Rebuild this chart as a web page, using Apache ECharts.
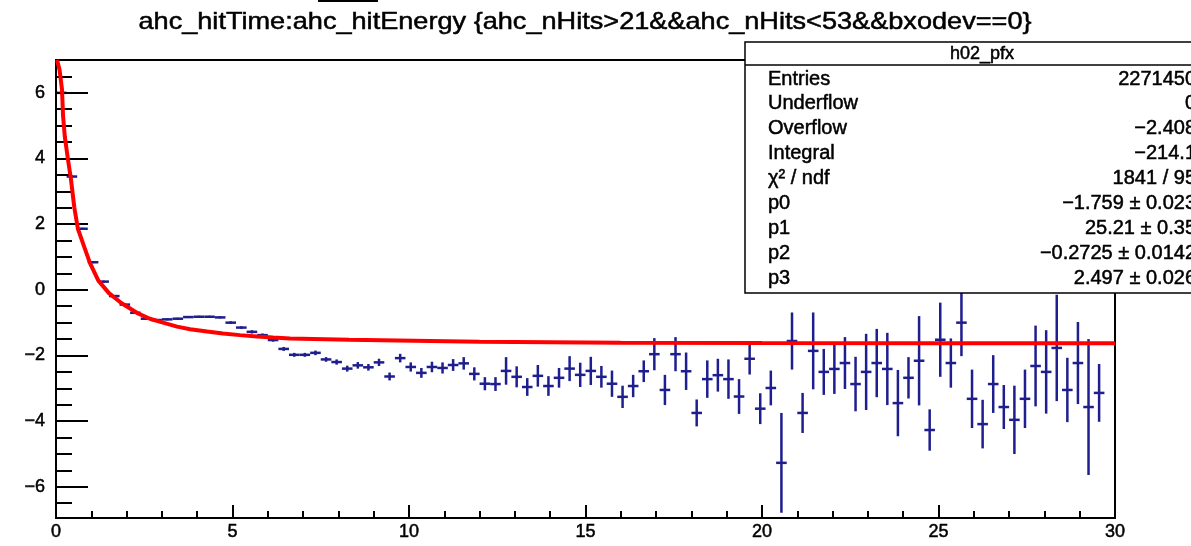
<!DOCTYPE html>
<html>
<head>
<meta charset="utf-8">
<title>h02_pfx</title>
<script src="https://cdn.jsdelivr.net/npm/echarts@6/dist/echarts.min.js"></script>
<style>
html, body { margin: 0; padding: 0; background: #fff; }
#main { width: 1191px; height: 546px; }
</style>
</head>
<body>
<div id="main"></div>
<script>
// profile h02_pfx : 100 bins from 0 to 30
var nBins = 100;
var xLow = 0;
var binWidth = 0.3;

// mean hitTime per bin, null = empty bin
var binMean = [
  6.0, 3.45, 1.86, 0.84, 0.25, -0.19, -0.45, -0.70, -0.88, -0.92,
  -0.90, -0.88, -0.83, -0.82, -0.82, -0.84, -1.00, -1.15, -1.28, -1.38,
  -1.53, -1.80, -1.98, -1.98, -1.92, -2.12, -2.20, -2.40, -2.30, -2.36,
  -2.21, -2.64, -2.08, -2.35, -2.53, -2.35, -2.38, -2.29, -2.24, -2.56,
  -2.86, -2.87, -2.47, -2.65, -2.96, -2.62, -2.93, -2.68, -2.40, -2.59,
  -2.47, -2.65, -2.86, -3.26, -2.93, -2.48, -1.96, -3.05, -1.96, -2.48,
  -3.75, -2.72, -2.60, -2.72, -3.25, -2.10, -3.62, -2.99, -5.27, -1.56,
  -3.75, -1.86, -2.50, -2.41, -2.23, -2.87, -2.50, -2.23, -2.41, -3.45,
  -2.68, -2.16, -4.27, -1.52, -2.23, -1.00, -3.32, -4.09, -2.87, -3.57,
  -3.96, -3.32, -2.32, -2.50, -1.77, -3.05, -2.23, -3.57, -3.14, null
];
// error on the mean
var binErr = [
  0.05, 0.03, 0.03, 0.03, 0.03, 0.03, 0.03, 0.03, 0.03, 0.03,
  0.03, 0.03, 0.03, 0.03, 0.03, 0.03, 0.04, 0.04, 0.05, 0.05,
  0.05, 0.06, 0.06, 0.06, 0.07, 0.07, 0.08, 0.09, 0.10, 0.10,
  0.11, 0.12, 0.13, 0.14, 0.15, 0.16, 0.17, 0.18, 0.19, 0.20,
  0.20, 0.21, 0.42, 0.32, 0.27, 0.33, 0.30, 0.30, 0.38, 0.37,
  0.43, 0.33, 0.40, 0.34, 0.34, 0.33, 0.49, 0.46, 0.52, 0.57,
  0.41, 0.57, 0.50, 0.60, 0.53, 0.48, 0.47, 0.53, 1.52, 0.87,
  0.61, 1.17, 0.70, 0.76, 0.79, 0.83, 1.16, 1.04, 1.10, 1.01,
  0.63, 1.36, 0.63, 1.13, 0.75, 1.02, 0.89, 0.74, 0.88, 0.67,
  1.04, 0.89, 1.23, 1.27, 1.62, 0.98, 1.25, 2.07, 0.88, 0
];

// fitted function, sampled off the red curve
var fitX = [0.03, 0.10, 0.17, 0.20, 0.25, 0.34, 0.42, 0.52, 0.62, 0.80,
  0.96, 1.20, 1.50, 1.85, 2.29, 2.66, 3.03, 3.43, 3.80, 4.28,
  4.73, 5.21, 5.69, 6.15, 6.63, 8.30, 12.0, 16.0, 20.0, 25.0, 30.0];
var fitY = [7.00, 6.70, 6.10, 5.30, 4.66, 3.96, 3.40, 2.50, 1.86, 1.31,
  0.82, 0.28, -0.10, -0.40, -0.70, -0.88, -1.00, -1.12, -1.20, -1.27,
  -1.33, -1.38, -1.42, -1.45, -1.48, -1.52, -1.58, -1.61, -1.62, -1.63, -1.63];

// y axis ticks
var yMajorTicks = [-6, -4, -2, 0, 2, 4, 6];
var yMinorTicks = [-6.5, -6, -5.5, -5, -4.5, -4, -3.5, -3, -2.5, -2, -1.5, -1, -0.5,
  0, 0.5, 1, 1.5, 2, 2.5, 3, 3.5, 4, 4.5, 5, 5.5, 6, 6.5];

// stats box
var statTitle = 'h02_pfx';
var statNames = ['Entries', 'Underflow', 'Overflow', 'Integral', 'χ² / ndf', 'p0', 'p1', 'p2', 'p3'];
var statValues = ['2271450', '0', '−2.408', '−214.1', '1841 / 95',
  '−1.759 ± 0.023', '25.21 ± 0.35', '−0.2725 ± 0.0142', '2.497 ± 0.026'];

var histTitle = 'ahc_hitTime:ahc_hitEnergy {ahc_nHits>21&&ahc_nHits<53&&bxodev==0}';

var FONT = '"Liberation Sans", Arial, Helvetica, sans-serif';
var BLUE = '#1e1e8e';

var chart = echarts.init(document.getElementById('main'));

var profData = [];
for (var i = 0; i < nBins; i++) {
  if (binMean[i] === null) continue;
  profData.push([xLow + (i + 0.5) * binWidth, binMean[i], binErr[i]]);
}

var fitData = fitX.map(function (x, i) { return [x, fitY[i]]; });

function minusFmt(v) {
  return v < 0 ? '\u2212' + Math.abs(v) : String(v);
}

function renderProfile(params, api) {
  var x = api.value(0), y = api.value(1), e = api.value(2);
  var l = api.coord([x - binWidth / 2, y]);
  var r = api.coord([x + binWidth / 2, y]);
  var t = api.coord([x, y + e]);
  var b = api.coord([x, y - e]);
  var st = { stroke: BLUE, lineWidth: 2.5 };
  return {
    type: 'group',
    children: [
      { type: 'line', shape: { x1: l[0], y1: l[1], x2: r[0], y2: r[1] }, style: st },
      { type: 'line', shape: { x1: t[0], y1: t[1], x2: b[0], y2: b[1] }, style: st }
    ]
  };
}

// text a bit heavier, like the ROOT canvas rendering
function txt(text, x, y, size, align, z) {
  return { type: 'text', x: x, y: y, z: z,
    style: { text: text, font: size + 'px ' + FONT, fill: '#000', stroke: '#000', lineWidth: 0.5,
      align: align, verticalAlign: 'middle' } };
}

// stats box graphics
var boxX = 745, boxY = 42, boxW = 480, boxH = 251;
var statGraphics = [
  { type: 'rect', shape: { x: boxX, y: boxY, width: boxW, height: boxH },
    style: { fill: '#fff', stroke: '#000', lineWidth: 1.5 }, z: 100 },
  { type: 'line', shape: { x1: boxX, y1: 65, x2: boxX + boxW, y2: 65 },
    style: { stroke: '#000', lineWidth: 1.5 }, z: 101 },
  txt(statTitle, 982, 54, 18, 'center', 101)
];
for (var k = 0; k < statNames.length; k++) {
  var ry = 79 + k * 24.9;
  statGraphics.push(txt(statNames[k], 768, ry, 20, 'left', 101));
  statGraphics.push(txt(statValues[k], 1196, ry, 20, 'right', 101));
}

var titleEl = txt(histTitle, 585, 22, 24, 'center', 50);
// ROOT title is drawn wider than a plain Arial run, stretch it a little
titleEl.scaleX = 1.13;

var option = {
  backgroundColor: '#fff',
  animation: false,
  grid: { left: 56, right: 76, top: 60, bottom: 28, show: true, borderColor: '#000', borderWidth: 2 },
  xAxis: {
    type: 'value', min: 0, max: 30, interval: 5, z: 2,
    axisLine: { onZero: false, lineStyle: { color: '#000', width: 2 } },
    axisTick: { inside: true, length: 13, lineStyle: { color: '#000', width: 2 } },
    minorTick: { show: true, splitNumber: 5, length: 7, lineStyle: { color: '#000', width: 2 } },
    axisLabel: { color: '#000', fontSize: 18, fontFamily: FONT, margin: 5,
      textBorderColor: '#000', textBorderWidth: 0.5 },
    splitLine: { show: false }
  },
  yAxis: [{
    type: 'value', min: -6.95, max: 7, position: 'left', z: 2,
    axisLine: { show: true, onZero: false, lineStyle: { color: '#000', width: 2 } },
    axisTick: { inside: true, length: 32, customValues: yMajorTicks, lineStyle: { color: '#000', width: 2 } },
    axisLabel: { customValues: yMajorTicks, formatter: minusFmt, color: '#000', fontSize: 18, fontFamily: FONT, margin: 11,
      textBorderColor: '#000', textBorderWidth: 0.5 },
    splitLine: { show: false }
  }, {
    type: 'value', min: -6.95, max: 7, position: 'left', z: 2,
    axisLine: { show: false },
    axisTick: { inside: true, length: 16, customValues: yMinorTicks, lineStyle: { color: '#000', width: 2 } },
    axisLabel: { show: false },
    splitLine: { show: false }
  }],
  series: [{
    type: 'custom', name: 'h02_pfx', z: 1, clip: true,
    renderItem: renderProfile,
    encode: { x: 0, y: 1 },
    data: profData
  }, {
    type: 'line', name: 'fit', z: 3,
    showSymbol: false, clip: true,
    lineStyle: { color: '#ff0000', width: 4 },
    data: fitData
  }],
  graphic: [
    { type: 'rect', shape: { x: 318, y: 0, width: 60, height: 2 }, style: { fill: '#000' } },
    titleEl
  ].concat(statGraphics)
};

chart.setOption(option);
</script>
</body>
</html>
